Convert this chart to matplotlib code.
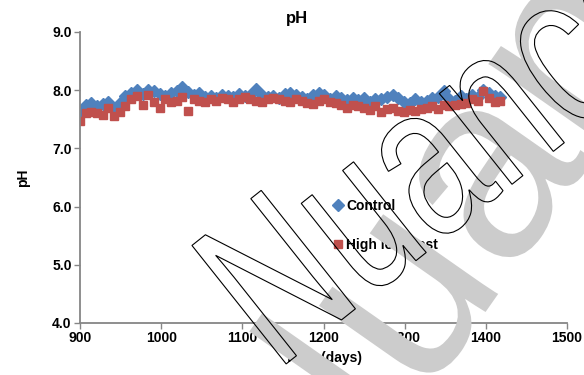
import matplotlib
matplotlib.use("Agg")
import matplotlib.pyplot as plt
from matplotlib.textpath import TextPath
from matplotlib.patches import PathPatch
from matplotlib.font_manager import FontProperties
from matplotlib.transforms import Affine2D, IdentityTransform

plt.rcParams['font.family'] = ['Liberation Sans', 'DejaVu Sans']

# sampling days (weekly)
days = [900 + 7 * i for i in range(75)]

control = [7.62, 7.75, 7.78, 7.72, 7.76, 7.80, 7.68, 7.78, 7.90, 7.96,
           8.00, 7.94, 8.00, 7.98, 7.94, 7.90, 7.95, 7.98, 8.05, 7.97,
           7.92, 7.95, 7.88, 7.90, 7.86, 7.92, 7.90, 7.88, 7.93, 7.90,
           7.92, 8.02, 7.92, 7.88, 7.90, 7.86, 7.93, 7.96, 7.92, 7.88,
           7.85, 7.92, 7.96, 7.92, 7.85, 7.90, 7.86, 7.83, 7.86, 7.83,
           7.86, 7.80, 7.84, 7.85, 7.88, 7.92, 7.86, 7.80, 7.78, 7.84,
           7.80, 7.82, 7.86, 7.88, 7.99, 7.85, 7.82, 7.90, 7.85, 7.92,
           7.88, 8.01, 7.95, 7.90, 7.88]

high_load = [7.47, 7.60, 7.62, 7.60, 7.58, 7.70, 7.55, 7.62, 7.72, 7.85,
             7.90, 7.75, 7.92, 7.80, 7.70, 7.85, 7.80, 7.82, 7.88, 7.65,
             7.85, 7.82, 7.80, 7.84, 7.82, 7.86, 7.84, 7.80, 7.84, 7.88,
             7.84, 7.82, 7.80, 7.84, 7.86, 7.84, 7.82, 7.80, 7.84, 7.82,
             7.78, 7.76, 7.82, 7.84, 7.80, 7.78, 7.74, 7.70, 7.74, 7.72,
             7.70, 7.66, 7.72, 7.62, 7.68, 7.70, 7.64, 7.62, 7.66, 7.64,
             7.68, 7.70, 7.72, 7.68, 7.74, 7.72, 7.74, 7.76, 7.78, 7.84,
             7.82, 7.98, 7.86, 7.80, 7.82]

xticks = [900, 1000, 1100, 1200, 1300, 1400, 1500]
yticks = [4.0, 5.0, 6.0, 7.0, 8.0, 9.0]

fig = plt.figure(figsize=(5.84, 3.75), dpi=100)
ax = fig.add_axes([0.137, 0.1387, 0.834, 0.776])

ax.plot(days, control, 'D', ms=6, color='#4F81BD', mec='#4F81BD', label='Control')
ax.plot(days, high_load, 's', ms=5.5, color='#C0504D', mec='#C0504D', label='High load test')

ax.set_xlim(900, 1500)
ax.set_ylim(4.0, 9.0)
ax.set_xticks(xticks)
ax.set_yticks(yticks)
ax.set_yticklabels(['%.1f' % v for v in yticks])

for s in ['top', 'right']:
    ax.spines[s].set_visible(False)
for s in ['left', 'bottom']:
    ax.spines[s].set_color('#868686')
    ax.spines[s].set_linewidth(1.3)
ax.tick_params(length=4, width=1, color='#868686', labelsize=10, pad=2)
for lab in ax.get_xticklabels() + ax.get_yticklabels():
    lab.set_fontweight('bold')

ax.set_xlabel('Time (days)', fontsize=10, fontweight='bold', labelpad=4)
ax.set_ylabel('pH', fontsize=10, fontweight='bold', labelpad=16)
fig.text(297 / 584, 1 - 18 / 375, 'pH', fontsize=12, fontweight='bold',
         ha='center', va='center')

leg = ax.legend(loc='upper left', bbox_to_anchor=(0.492, 0.47), frameon=False,
                labelspacing=1.8, handletextpad=0.1, handlelength=0.9,
                prop={'size': 10, 'weight': 'bold'})

# watermark, drawn in pixel coordinates (y up)
fp = FontProperties(family='Liberation Sans')

def watermark(size, sx, angle, x0, y0, **kw):
    path = TextPath((0, 0), 'Nuance', size=size, prop=fp)
    tr = Affine2D().scale(sx, 1).rotate_deg(angle).translate(x0, y0)
    fig.add_artist(PathPatch(tr.transform_path(path), transform=IdentityTransform(), **kw))

watermark(265, 1.0, 55, 314, -182, facecolor='#cccccc', edgecolor='none', zorder=10)
watermark(220, 0.72, 38.5, 276, 3, facecolor='none', edgecolor='black', lw=0.8, zorder=11)

fig.savefig('out.png', dpi=100)
